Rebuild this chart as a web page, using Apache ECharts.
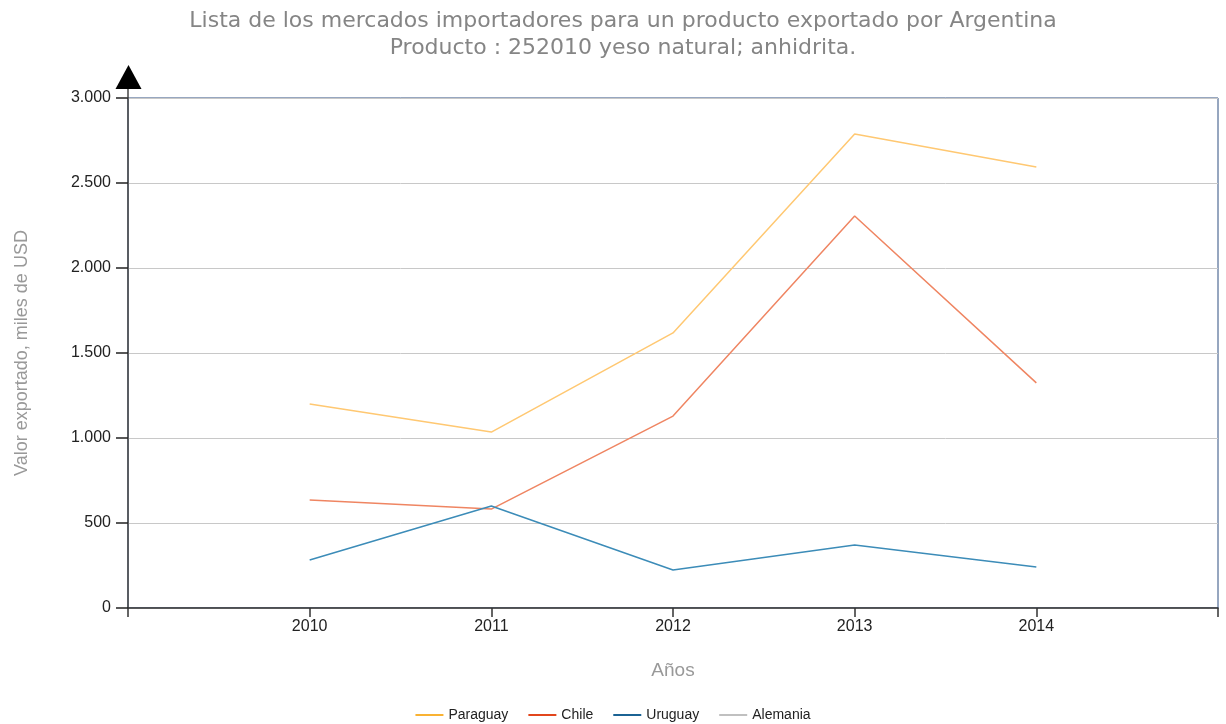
<!DOCTYPE html>
<html>
<head>
<meta charset="utf-8">
<script src="https://cdn.jsdelivr.net/npm/echarts@6/dist/echarts.min.js"></script>
<style>
html,body{margin:0;padding:0;background:#fff;}
#chart{width:1226px;height:724px;}
</style>
</head>
<body>
<div id="chart"></div>
<script>
const years = [2010, 2011, 2012, 2013, 2014];
const seriesNames = ['Paraguay', 'Chile', 'Uruguay', 'Alemania'];
const paraguay = [1200, 1035, 1618, 2788, 2594];
const chile = [635, 582, 1129, 2306, 1324];
const uruguay = [282, 600, 224, 371, 241];
const alemania = [null, null, null, null, null];
const yTicks = [0, 500, 1000, 1500, 2000, 2500, 3000];

const lineColors = ['#FFC872', '#EF8562', '#3C8CB8', '#C0C0C0'];
const legendColors = ['#F9B233', '#E2461C', '#1B6394', '#C0C0C0'];
const values = [paraguay, chile, uruguay, alemania];

function fmt(v) {
  return String(v).replace(/\B(?=(\d{3})+(?!\d))/g, '.');
}

const chart = echarts.init(document.getElementById('chart'), null, {renderer: 'canvas'});
chart.setOption({
  animation: false,
  backgroundColor: '#ffffff',
  title: {
    text: 'Lista de los mercados importadores para un producto exportado por Argentina\nProducto : 252010 yeso natural; anhidrita.',
    left: 618,
    textAlign: 'center',
    top: 3,
    textStyle: {
      fontFamily: 'DejaVu Sans',
      fontWeight: 'normal',
      fontSize: 22,
      color: '#858585',
      lineHeight: 27
    }
  },
  legend: {
    bottom: -3,
    left: 'center',
    itemWidth: 28,
    itemHeight: 10,
    itemGap: 20,
    icon: 'path://M0,4 L28,4 L28,6 L0,6 Z',
    textStyle: {fontFamily: 'Liberation Sans', fontSize: 14, color: '#222'},
    data: seriesNames.map((n, i) => ({name: n, itemStyle: {color: legendColors[i]}}))
  },
  grid: {
    left: 128, right: 8, top: 98, bottom: 116,
    show: true,
    borderColor: '#2f4f80',
    borderWidth: 1,
    containLabel: false
  },
  xAxis: {
    type: 'value',
    min: 2009, max: 2015, interval: 1,
    name: 'Años',
    nameLocation: 'middle',
    nameGap: 53,
    nameTextStyle: {fontFamily: 'Liberation Sans', fontSize: 19, color: '#999'},
    axisLine: {show: true, lineStyle: {color: '#333', width: 1.5}},
    axisTick: {show: true, length: 9, lineStyle: {color: '#333', width: 1.5}},
    axisLabel: {
      fontFamily: 'Liberation Sans', fontSize: 16, color: '#222', margin: 11,
      formatter: v => (years.indexOf(v) >= 0 ? String(v) : '')
    },
    splitLine: {show: false}
  },
  yAxis: {
    type: 'value',
    min: 0, max: 3000, interval: 500,
    name: 'Valor exportado, miles de USD',
    nameLocation: 'middle',
    nameGap: 97,
    nameRotate: 90,
    nameTextStyle: {fontFamily: 'Liberation Sans', fontSize: 18, color: '#999'},
    axisLine: {show: true, lineStyle: {color: '#444', width: 1.5}},
    axisTick: {show: true, length: 12, lineStyle: {color: '#222', width: 1.5}},
    axisLabel: {
      fontFamily: 'Liberation Sans', fontSize: 16, color: '#222', margin: 17,
      formatter: v => (yTicks.indexOf(v) >= 0 ? fmt(v) : '')
    },
    splitLine: {show: true, lineStyle: {color: '#c8c8c8', width: 1}}
  },
  graphic: [{
    type: 'line',
    shape: {x1: 128, y1: 86, x2: 128, y2: 98},
    style: {stroke: '#444', lineWidth: 1.5},
    z: 10
  }, {
    type: 'polygon',
    shape: {points: [[128.5, 65], [141.5, 89], [115.5, 89]]},
    style: {fill: '#000'},
    z: 11
  }],
  series: seriesNames.map((n, i) => ({
    name: n,
    type: 'line',
    data: years.map((y, k) => [y, values[i][k]]),
    showSymbol: false,
    symbol: 'none',
    itemStyle: {color: legendColors[i]},
    lineStyle: {color: lineColors[i], width: 1.5}
  }))
});
</script>
</body>
</html>
